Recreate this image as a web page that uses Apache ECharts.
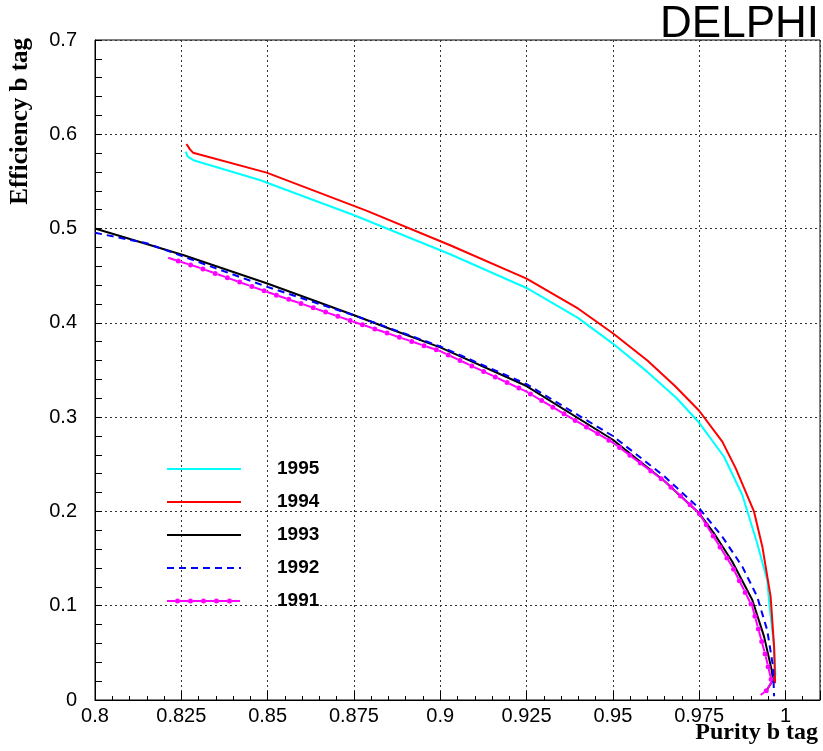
<!DOCTYPE html>
<html>
<head>
<meta charset="utf-8">
<script src="https://cdn.jsdelivr.net/npm/echarts@6/dist/echarts.min.js"></script>
<style>html,body{margin:0;padding:0;background:#fff;}#c{width:823px;height:751px;}</style>
</head>
<body>
<div id="c"></div>
<script>
// ---- data ----
const xTicks = [0.8, 0.825, 0.85, 0.875, 0.9, 0.925, 0.95, 0.975, 1];
const yTicks = [0, 0.1, 0.2, 0.3, 0.4, 0.5, 0.6, 0.7];
const legendNames = ['1995', '1994', '1993', '1992', '1991'];

const purity1995 = [0.8263, 0.8268, 0.8285, 0.8477, 0.8749, 0.9027, 0.925, 0.94, 0.95, 0.96, 0.9685, 0.975, 0.9822, 0.9875, 0.9918, 0.9947, 0.9954, 0.9967, 0.9971, 0.9964];
const eff1995    = [0.5816, 0.5765, 0.5725, 0.5515, 0.5144, 0.473, 0.437, 0.405, 0.378, 0.348, 0.32, 0.294, 0.258, 0.2174, 0.1662, 0.1273, 0.099, 0.0566, 0.0265, 0.0194];

const purity1994 = [0.8265, 0.8275, 0.8284, 0.8497, 0.8786, 0.9027, 0.925, 0.94, 0.95, 0.96, 0.968, 0.975, 0.9817, 0.9856, 0.9909, 0.9933, 0.9957, 0.9967, 0.997];
const eff1994    = [0.5897, 0.584, 0.5805, 0.5593, 0.519, 0.4826, 0.447, 0.415, 0.389, 0.36, 0.333, 0.3068, 0.274, 0.2457, 0.1997, 0.1626, 0.1096, 0.0566, 0.0177];

const purity1993 = [0.8, 0.8159, 0.8255, 0.8497, 0.8749, 0.8863, 0.9, 0.925, 0.95, 0.965, 0.975, 0.9793, 0.9846, 0.9904, 0.9938, 0.996, 0.9964, 0.9943];
const eff1993    = [0.5, 0.4826, 0.472, 0.442, 0.4083, 0.3924, 0.374, 0.333, 0.276, 0.232, 0.198, 0.1768, 0.1467, 0.106, 0.0672, 0.0318, 0.0212, 0.0088];

const purity1992 = [0.8, 0.815, 0.8497, 0.875, 0.9, 0.925, 0.95, 0.965, 0.975, 0.9817, 0.9875, 0.9918, 0.9947, 0.9964, 0.9967];
const eff1992    = [0.4956, 0.4844, 0.4384, 0.408, 0.375, 0.335, 0.28, 0.237, 0.2033, 0.1732, 0.1414, 0.1096, 0.0742, 0.0354, 0.004];

const purity1991 = [0.8212, 0.8299, 0.8497, 0.8749, 0.9, 0.925, 0.95, 0.965, 0.975, 0.9846, 0.9904, 0.9943, 0.996, 0.9945, 0.9928];
const eff1991    = [0.469, 0.4589, 0.433, 0.4012, 0.37, 0.327, 0.273, 0.232, 0.198, 0.1414, 0.099, 0.046, 0.0194, 0.01, 0.0053];

function pairs(xs, ys) { return xs.map((x, i) => [x, ys[i]]); }

const chart = echarts.init(document.getElementById('c'), null, {renderer: 'canvas'});

const gridDash = [2, 3];
const labelFont = {fontFamily: 'Liberation Sans, Arial, sans-serif', fontSize: 20, color: '#000'};
const isMajorX = v => xTicks.some(t => Math.abs(t - v) < 1e-7);

function lineSeries(name, xs, ys, color, type, width, extra) {
  return Object.assign({
    name: name, type: 'line', xAxisIndex: 0, yAxisIndex: 0,
    data: pairs(xs, ys), showSymbol: false, symbol: 'none', smooth: false,
    lineStyle: {color: color, width: width, type: type},
    silent: true, animation: false, z: 3
  }, extra || {});
}

const legendColors = ['#00ffff', '#ff0000', '#000000', '#0000ff', '#ff00ff'];
const legendRowsY = [469, 502, 535, 568, 601];
const graphics = [];
legendNames.forEach((n, i) => {
  const y = legendRowsY[i];
  const base = {type: 'line', shape: {x1: 167, y1: y, x2: 241, y2: y}, z: 10,
    style: {stroke: legendColors[i], lineWidth: 2}};
  if (i === 3) base.style.lineDash = [7, 5];
  if (i === 4) base.style.lineDash = [8, 5];
  graphics.push(base);
  if (i === 4) {
    graphics.push({type: 'line', shape: {x1: 167, y1: y, x2: 241, y2: y}, z: 11,
      style: {stroke: legendColors[i], lineWidth: 5, lineDash: [0, 13], lineDashOffset: -10.5, lineCap: 'round'}});
  }
  graphics.push({type: 'text', x: 277, y: y, z: 10,
    style: {text: n, font: 'bold 19px "Liberation Sans", Arial, sans-serif', fill: '#000', textVerticalAlign: 'middle', textAlign: 'left'}});
});
graphics.push({type: 'text', right: 4, top: 3, z: 10,
  style: {text: 'DELPHI', font: '44px "Liberation Sans", Arial, sans-serif', fill: '#000'}});
graphics.push({type: 'text', right: 5, top: 721, z: 10,
  style: {text: 'Purity b tag', font: 'bold 24px "Liberation Serif", "Times New Roman", serif', fill: '#000'}});
graphics.push({type: 'text', left: 8, top: 38, z: 10, rotation: Math.PI / 2,
  originX: 0, originY: 0,
  style: {text: 'Efficiency b tag', font: 'bold 25px "Liberation Serif", "Times New Roman", serif', fill: '#000'}});

const option = {
  backgroundColor: '#fff',
  animation: false,
  grid: {left: 95, right: 3, top: 40, bottom: 51, show: true, borderColor: '#000', borderWidth: 1, backgroundColor: 'transparent'},
  xAxis: [
    {type: 'value', min: 0.8, max: 1.01, interval: 0.025,
      axisLine: {show: true, lineStyle: {color: '#000', width: 1}},
      axisTick: {show: true, inside: true, length: 9, lineStyle: {color: '#000'}},
      axisLabel: Object.assign({margin: 6, formatter: v => isMajorX(v) ? String(+v.toFixed(3)) : ''}, labelFont),
      splitLine: {show: true, lineStyle: {color: '#333', type: gridDash, width: 1}}
    },
    {type: 'value', min: 0.8, max: 1.01, interval: 0.005, position: 'bottom',
      axisLine: {show: false}, axisLabel: {show: false}, splitLine: {show: false},
      axisTick: {show: true, inside: true, length: 4, lineStyle: {color: '#000'}}
    }
  ],
  yAxis: [
    {type: 'value', min: 0, max: 0.7, interval: 0.1,
      axisLine: {show: true, lineStyle: {color: '#000', width: 1}},
      axisTick: {show: true, inside: true, length: 7, lineStyle: {color: '#000'}},
      minorTick: {show: true, splitNumber: 5, length: 7, lineStyle: {color: '#000'}},
      axisLabel: Object.assign({margin: 18, formatter: v => String(+v.toFixed(2))}, labelFont),
      splitLine: {show: true, lineStyle: {color: '#333', type: gridDash, width: 1}}
    }
  ],
  graphic: graphics,
  series: [
    lineSeries('1995', purity1995, eff1995, '#00ffff', 'solid', 2),
    lineSeries('1994', purity1994, eff1994, '#ff0000', 'solid', 2),
    lineSeries('1993', purity1993, eff1993, '#000000', 'solid', 2),
    lineSeries('1992', purity1992, eff1992, '#0000ff', [7, 5], 2),
    lineSeries('1991', purity1991, eff1991, '#ff00ff', [8, 5], 2),
    lineSeries('1991 dots', purity1991, eff1991, '#ff00ff', [0, 13], 5, {z: 4})
  ]
};
option.series[5].lineStyle.cap = 'round';
option.series[5].lineStyle.dashOffset = -10.5;
chart.setOption(option);
</script>
</body>
</html>
